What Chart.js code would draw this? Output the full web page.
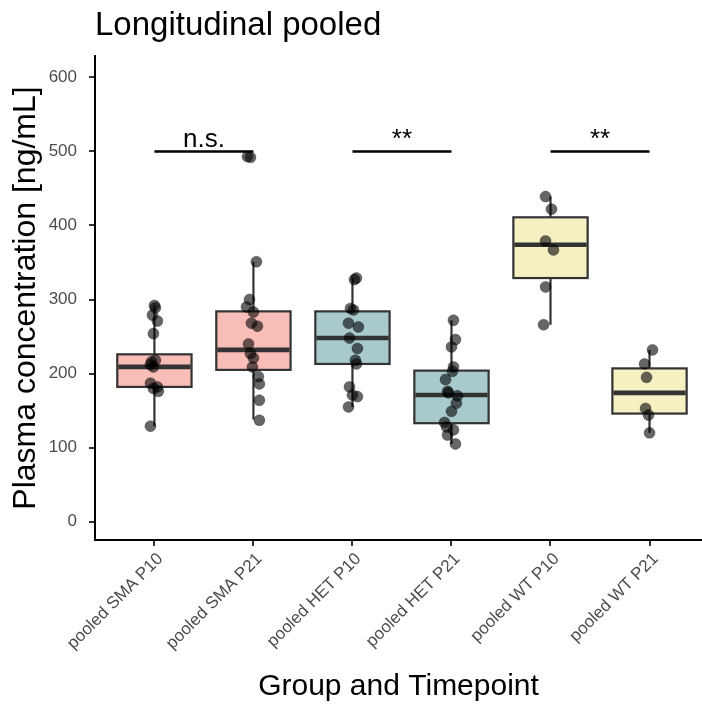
<!DOCTYPE html>
<html>
<head>
<meta charset="utf-8">
<title>Longitudinal pooled</title>
<script src="https://cdn.jsdelivr.net/npm/chart.js@4.4.1/dist/chart.umd.min.js"></script>
<style>
    html, body { margin: 0; padding: 0; background: #fff; }
    #wrap { width: 702px; height: 706px; }
</style>
</head>
<body>
<div id="wrap"><canvas id="chart" width="702" height="706"></canvas></div>
<script>
const GROUPS = ['pooled SMA P10', 'pooled SMA P21', 'pooled HET P10', 'pooled HET P21', 'pooled WT P10', 'pooled WT P21'];
const BOX_FILL = ['#F9BDB8', '#F9BDB8', '#A8CACD', '#A8CACD', '#F6F0C2', '#F6F0C2'];

// box statistics per group (ng/mL)
const Q1 = [182, 205, 213, 133, 329, 146];
const MEDIAN = [209, 232, 248, 171, 374, 174];
const Q3 = [226, 284, 284, 204, 411, 207];
const WHISKER_LOW = [129, 138, 155, 105, 266, 120];
const WHISKER_HIGH = [292, 351, 329, 272, 439, 232];

// individual measurements and their horizontal jitter (category units)
const SMA_P10 = [292, 289, 279, 271, 254, 218, 216, 212, 209, 187, 182, 180, 176, 129];
const SMA_P10_JIT = [0.00, 0.01, -0.02, 0.03, -0.01, 0.01, -0.03, -0.04, -0.01, -0.04, 0.03, -0.01, 0.04, -0.04];
const SMA_P21 = [493, 492, 351, 300, 290, 283, 268, 264, 240, 227, 221, 209, 196, 186, 164, 137];
const SMA_P21_JIT = [-0.06, -0.03, 0.03, -0.04, -0.07, 0.00, -0.02, 0.04, -0.05, -0.03, 0.00, -0.01, 0.05, 0.06, 0.06, 0.06];
const HET_P10 = [329, 327, 288, 286, 268, 263, 248, 234, 218, 213, 182, 171, 169, 155];
const HET_P10_JIT = [0.04, 0.02, -0.02, 0.01, -0.04, 0.06, -0.03, 0.05, 0.03, 0.04, -0.03, 0.00, 0.05, -0.04];
const HET_P21 = [272, 246, 236, 209, 203, 192, 176, 174, 170, 160, 149, 134, 128, 124, 117, 105];
const HET_P21_JIT = [0.02, 0.04, 0.00, 0.02, 0.01, -0.06, -0.04, -0.03, 0.06, 0.05, 0.00, -0.07, -0.05, 0.02, -0.04, 0.04];
const WT_P10 = [439, 422, 379, 367, 317, 266];
const WT_P10_JIT = [-0.05, 0.01, -0.05, 0.03, -0.05, -0.07];
const WT_P21 = [232, 213, 195, 153, 144, 120];
const WT_P21_JIT = [0.03, -0.05, -0.03, -0.04, -0.01, 0.00];

const POINT_SETS = [
    [SMA_P10, SMA_P10_JIT], [SMA_P21, SMA_P21_JIT],
    [HET_P10, HET_P10_JIT], [HET_P21, HET_P21_JIT],
    [WT_P10, WT_P10_JIT], [WT_P21, WT_P21_JIT]
];

// significance brackets
const SIG_FROM = [1, 3, 5];
const SIG_TO = [2, 4, 6];
const SIG_LABELS = ['n.s.', '**', '**'];
const SIG_Y = 500;

const Y_TICKS = [0, 100, 200, 300, 400, 500, 600];

const FONT = "'Liberation Sans', Arial, sans-serif";
const EDGE = '#333333';
const BOX_WIDTH = 0.75;

const points = [];
POINT_SETS.forEach(([vals, jit], i) => {
    vals.forEach((v, j) => points.push({ x: i + 1 + jit[j], y: v }));
});

const boxPlot = {
    id: 'boxPlot',
    beforeDatasetsDraw(chart) {
        const { ctx, scales: { x, y } } = chart;
        ctx.save();
        ctx.strokeStyle = EDGE;
        GROUPS.forEach((g, i) => {
            const c = i + 1;
            const mid = x.getPixelForValue(c);
            const left = x.getPixelForValue(c - BOX_WIDTH / 2);
            const right = x.getPixelForValue(c + BOX_WIDTH / 2);
            const top = y.getPixelForValue(Q3[i]);
            const bot = y.getPixelForValue(Q1[i]);
            ctx.lineWidth = 2.2;
            ctx.beginPath();
            ctx.moveTo(mid, y.getPixelForValue(WHISKER_HIGH[i]));
            ctx.lineTo(mid, top);
            ctx.moveTo(mid, bot);
            ctx.lineTo(mid, y.getPixelForValue(WHISKER_LOW[i]));
            ctx.stroke();
            ctx.fillStyle = BOX_FILL[i];
            ctx.fillRect(left, top, right - left, bot - top);
            ctx.strokeRect(left, top, right - left, bot - top);
            const ym = y.getPixelForValue(MEDIAN[i]);
            ctx.lineWidth = 4.6;
            ctx.beginPath();
            ctx.moveTo(left + 1, ym);
            ctx.lineTo(right - 1, ym);
            ctx.stroke();
        });
        ctx.restore();
    }
};

const sigBars = {
    id: 'sigBars',
    afterDatasetsDraw(chart) {
        const { ctx, scales: { x, y } } = chart;
        const yy = y.getPixelForValue(SIG_Y);
        ctx.save();
        ctx.strokeStyle = '#000';
        ctx.fillStyle = '#000';
        ctx.lineWidth = 2.5;
        ctx.font = `26px ${FONT}`;
        ctx.textAlign = 'center';
        ctx.textBaseline = 'alphabetic';
        SIG_LABELS.forEach((lab, i) => {
            const x1 = x.getPixelForValue(SIG_FROM[i]);
            const x2 = x.getPixelForValue(SIG_TO[i]);
            ctx.beginPath();
            ctx.moveTo(x1, yy);
            ctx.lineTo(x2, yy);
            ctx.stroke();
            ctx.fillText(lab, (x1 + x2) / 2, yy - 4);
        });
        ctx.restore();
    }
};

new Chart(document.getElementById('chart'), {
    type: 'scatter',
    data: {
        datasets: [{
            data: points,
            backgroundColor: 'rgba(0,0,0,0.6)',
            borderColor: 'rgba(0,0,0,0.3)',
            borderWidth: 1,
            pointRadius: 5.5,
            pointHoverRadius: 5.5
        }]
    },
    options: {
        responsive: false,
        animation: false,
        events: [],
        layout: { padding: 0, autoPadding: false },
        plugins: {
            legend: { display: false },
            tooltip: { enabled: false },
            title: {
                display: true,
                text: 'Longitudinal pooled',
                align: 'start',
                fullSize: false,
                color: '#000',
                font: { family: FONT, size: 33, weight: 'normal' },
                padding: { top: 6, bottom: 10.4 }
            }
        },
        scales: {
            x: {
                type: 'linear',
                min: 0.4,
                max: 6.53,
                afterBuildTicks: s => { s.ticks = GROUPS.map((g, i) => ({ value: i + 1 })); },
                afterFit: s => { s.height = 166; s.paddingLeft = 0; s.paddingRight = 0; },
                ticks: {
                    autoSkip: false,
                    minRotation: 45,
                    maxRotation: 45,
                    padding: 3,
                    labelOffset: 6,
                    color: '#4D4D4D',
                    font: { family: FONT, size: 17 },
                    callback: v => GROUPS[v - 1] || ''
                },
                grid: { display: true, drawOnChartArea: false, drawTicks: true, tickLength: 6, color: EDGE, lineWidth: 2 },
                border: { display: true, color: '#000', width: 2 },
                title: {
                    display: true,
                    text: 'Group and Timepoint',
                    color: '#000',
                    font: { family: FONT, size: 30 },
                    padding: { top: 0, bottom: 1 }
                }
            },
            y: {
                min: -24.7,
                max: 628.8,
                afterBuildTicks: s => { s.ticks = Y_TICKS.map(v => ({ value: v })); },
                afterFit: s => { s.width = 95; },
                ticks: {
                    padding: 12,
                    color: '#4D4D4D',
                    font: { family: FONT, size: 17 }
                },
                grid: { display: true, drawOnChartArea: false, drawTicks: true, tickLength: 6, color: EDGE, lineWidth: 2 },
                border: { display: true, color: '#000', width: 2 },
                title: {
                    display: true,
                    text: 'Plasma concentration [ng/mL]',
                    color: '#000',
                    font: { family: FONT, size: 32 },
                    padding: { top: 7, bottom: 0 }
                }
            }
        }
    },
    plugins: [boxPlot, sigBars]
});
</script>
</body>
</html>
